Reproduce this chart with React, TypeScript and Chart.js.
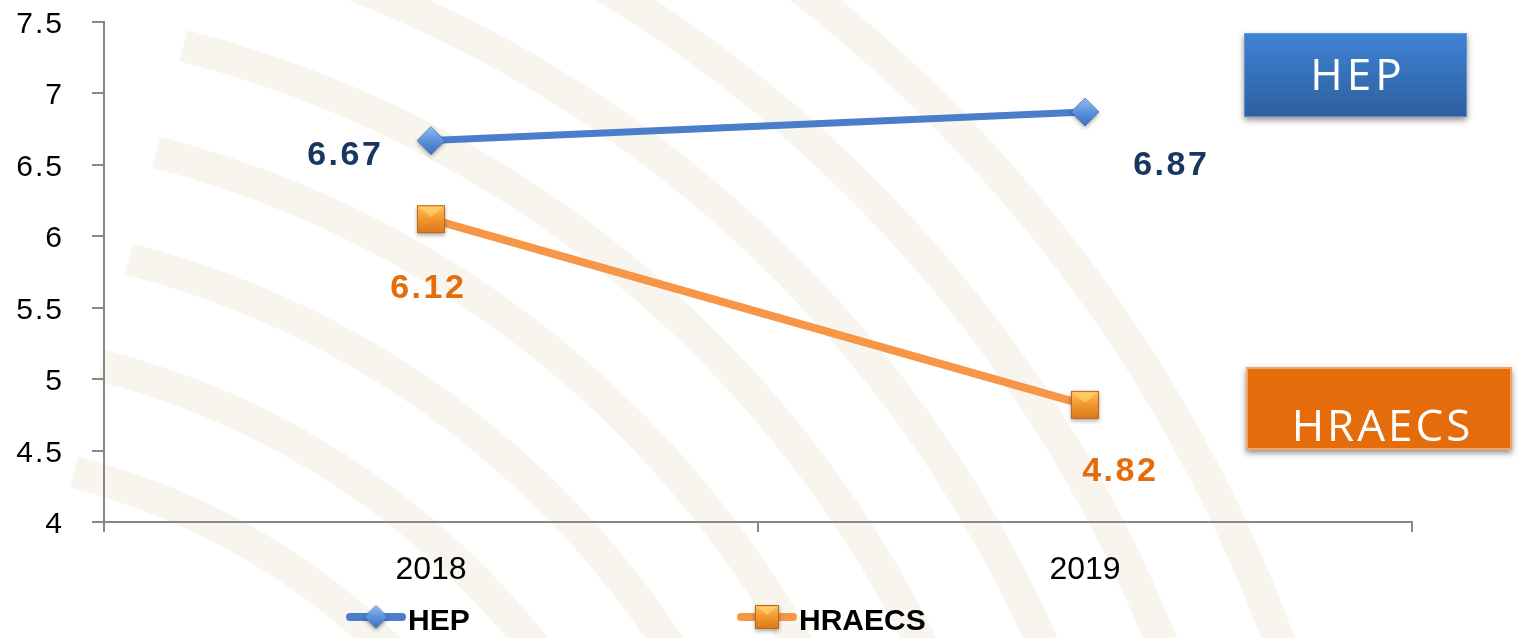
import React, { useEffect, useRef } from "react";
import { Chart, registerables } from "chart.js";

Chart.register(...registerables);

// ---- data ----
const categories = ["2018", "2019"];
const seriesNames = ["HEP", "HRAECS"];
const hepValues = [6.67, 6.87];
const hraecsValues = [6.12, 4.82];
const yMin = 4;
const yMax = 7.5;
const yStep = 0.5;

// ---- styles ----
const FONT = "'Liberation Sans', Arial, sans-serif";
const BOX_FONT = "'Open Sans', 'Noto Sans', sans-serif";
const BLUE_LINE = "#4A7ECB";
const ORANGE_LINE = "#F79646";
const HEP_LABEL = "#17375E";
const HRAECS_LABEL = "#E46C0A";

// label placement relative to each point: [dx, dy(baseline)]
const labelOffsets = [
  [
    [-87, 24],
    [85, 63],
  ],
  [
    [-4, 79],
    [34, 76],
  ],
];

function makeDiamond(r: number) {
  const pad = 6;
  const s = Math.ceil(r * 2 + pad * 2);
  const c = document.createElement("canvas");
  c.width = s;
  c.height = s;
  const g = c.getContext("2d")!;
  const cx = s / 2;
  const cy = s / 2;
  const path = () => {
    g.beginPath();
    g.moveTo(cx, cy - r);
    g.lineTo(cx + r, cy);
    g.lineTo(cx, cy + r);
    g.lineTo(cx - r, cy);
    g.closePath();
  };
  g.save();
  g.shadowColor = "rgba(0,0,0,0.35)";
  g.shadowBlur = 4;
  g.shadowOffsetY = 2;
  path();
  const gr = g.createLinearGradient(0, cy - r, 0, cy + r);
  gr.addColorStop(0, "#8FBDEE");
  gr.addColorStop(0.5, "#5B93DB");
  gr.addColorStop(1, "#3A6FBA");
  g.fillStyle = gr;
  g.fill();
  g.restore();
  path();
  g.strokeStyle = "rgba(60,100,170,0.6)";
  g.lineWidth = 1;
  g.stroke();
  return c;
}

function makeSquare(half: number) {
  const pad = 6;
  const s = Math.ceil(half * 2 + pad * 2);
  const c = document.createElement("canvas");
  c.width = s;
  c.height = s;
  const g = c.getContext("2d")!;
  const x0 = s / 2 - half;
  const y0 = s / 2 - half;
  const w = half * 2;
  g.save();
  g.shadowColor = "rgba(0,0,0,0.35)";
  g.shadowBlur = 4;
  g.shadowOffsetY = 2;
  const gr = g.createLinearGradient(0, y0, 0, y0 + w);
  gr.addColorStop(0, "#FFC65E");
  gr.addColorStop(0.45, "#F49A30");
  gr.addColorStop(1, "#DA761C");
  g.fillStyle = gr;
  g.fillRect(x0, y0, w, w);
  g.restore();
  g.beginPath();
  g.moveTo(x0 + 2, y0 + 2);
  g.lineTo(x0 + w - 2, y0 + 2);
  g.lineTo(x0 + w / 2, y0 + w / 2 - 2);
  g.closePath();
  g.fillStyle = "rgba(255,220,120,0.55)";
  g.fill();
  g.strokeStyle = "#C0661A";
  g.lineWidth = 1;
  g.strokeRect(x0 + 0.5, y0 + 0.5, w - 1, w - 1);
  return c;
}

function drawSpaced(
  g: CanvasRenderingContext2D,
  text: string,
  cx: number,
  baseline: number,
  ls: number,
  align: "center" | "right" | "left"
) {
  (g as any).letterSpacing = `${ls}px`;
  g.textAlign = "left";
  g.textBaseline = "alphabetic";
  const w = g.measureText(text).width - ls;
  let x = cx;
  if (align === "center") x = cx - w / 2;
  else if (align === "right") x = cx - w;
  g.fillText(text, x, baseline);
  (g as any).letterSpacing = "0px";
}

export default function App() {
  const ref = useRef<HTMLCanvasElement | null>(null);

  useEffect(() => {
    if (!ref.current) return;
    const diamond = makeDiamond(14);
    const square = makeSquare(14);
    const diamondSmall = makeDiamond(11.5);
    const squareSmall = makeSquare(12);

    const background = {
      id: "background",
      beforeDraw(chart: any) {
        const g = chart.ctx as CanvasRenderingContext2D;
        g.save();
        g.fillStyle = "#FFFFFF";
        g.fillRect(0, 0, chart.width, chart.height);
        g.strokeStyle = "#F8F5EF";
        g.lineWidth = 32;
        for (let r = 700; r <= 1500; r += 110) {
          g.beginPath();
          g.arc(-100, 1150, r, -Math.PI * 0.42, -Math.PI * 0.05);
          g.stroke();
        }
        g.restore();
      },
    };

    const overlay = {
      id: "overlay",
      afterDatasetsDraw(chart: any) {
        const g = chart.ctx as CanvasRenderingContext2D;
        g.save();
        const ys = chart.scales.y;
        g.fillStyle = "#000000";
        g.font = `30px ${FONT}`;
        ys.ticks.forEach((t: any) => {
          const py = ys.getPixelForValue(t.value);
          drawSpaced(g, String(t.value), 62, py + 11, 2, "right");
        });
        g.font = `bold 34px ${FONT}`;
        chart.data.datasets.forEach((ds: any, di: number) => {
          const meta = chart.getDatasetMeta(di);
          g.fillStyle = di === 0 ? HEP_LABEL : HRAECS_LABEL;
          meta.data.forEach((pt: any, i: number) => {
            const [dx, dy] = labelOffsets[di][i];
            drawSpaced(g, (ds.data[i] as number).toFixed(2), pt.x + dx, pt.y + dy, 2.5, "center");
          });
        });
        g.restore();
      },
      afterDraw(chart: any) {
        const g = chart.ctx as CanvasRenderingContext2D;
        g.save();
        const legendItems = [
          { x: 346, color: BLUE_LINE, marker: diamondSmall, text: chart.data.datasets[0].label },
          { x: 737, color: ORANGE_LINE, marker: squareSmall, text: chart.data.datasets[1].label },
        ];
        const ly = 617;
        legendItems.forEach((it) => {
          g.strokeStyle = it.color;
          g.lineWidth = 8;
          g.lineCap = "round";
          g.beginPath();
          g.moveTo(it.x + 4, ly);
          g.lineTo(it.x + 56, ly);
          g.stroke();
          const m = it.marker;
          g.drawImage(m, it.x + 30 - m.width / 2, ly - m.height / 2);
          g.fillStyle = "#000000";
          g.font = `bold 30px ${FONT}`;
          g.textAlign = "left";
          g.textBaseline = "alphabetic";
          g.fillText(it.text, it.x + 62, 630);
        });

        // HEP box
        g.save();
        g.shadowColor = "rgba(0,0,0,0.45)";
        g.shadowBlur = 6;
        g.shadowOffsetY = 3;
        const gb = g.createLinearGradient(0, 33, 0, 117);
        gb.addColorStop(0, "#3F83D6");
        gb.addColorStop(1, "#2D5E9E");
        g.fillStyle = gb;
        g.fillRect(1244, 33, 223, 84);
        g.restore();
        g.strokeStyle = "rgba(120,160,220,0.7)";
        g.lineWidth = 1;
        g.strokeRect(1244.5, 33.5, 222, 83);
        g.fillStyle = "#FFFFFF";
        g.font = `400 44px ${BOX_FONT}`;
        drawSpaced(g, chart.data.datasets[0].label, 1356, 90, 4, "center");

        // HRAECS box
        g.save();
        g.shadowColor = "rgba(0,0,0,0.45)";
        g.shadowBlur = 6;
        g.shadowOffsetY = 3;
        g.fillStyle = "#E46C0A";
        g.fillRect(1246, 367, 266, 83);
        g.restore();
        g.strokeStyle = "#F3A46A";
        g.lineWidth = 2;
        g.strokeRect(1247, 368, 264, 81);
        g.fillStyle = "#FFFFFF";
        g.font = `400 44px ${BOX_FONT}`;
        drawSpaced(g, chart.data.datasets[1].label, 1381, 441, 3, "center");
        g.restore();
      },
    };

    const chart = new Chart(ref.current, {
      type: "line",
      data: {
        labels: categories,
        datasets: [
          {
            label: seriesNames[0],
            data: hepValues,
            borderColor: BLUE_LINE,
            borderWidth: 7,
            pointStyle: diamond as any,
            pointRadius: 14,
            tension: 0,
          },
          {
            label: seriesNames[1],
            data: hraecsValues,
            borderColor: ORANGE_LINE,
            borderWidth: 8,
            pointStyle: square as any,
            pointRadius: 14,
            tension: 0,
          },
        ],
      },
      options: {
        animation: false,
        responsive: false,
        events: [],
        layout: { padding: { top: 20, right: 106, bottom: 46, left: 0 } },
        plugins: {
          legend: { display: false },
          tooltip: { enabled: false },
        },
        scales: {
          x: {
            offset: true,
            grid: {
              offset: true,
              drawOnChartArea: false,
              drawTicks: true,
              tickLength: 10,
              color: "#888888",
              lineWidth: 2,
            },
            border: { color: "#888888", width: 2 },
            ticks: {
              color: "#000000",
              font: { family: FONT, size: 32 },
              padding: 19,
            },
            afterFit(scale: any) {
              scale.height = 70;
            },
          },
          y: {
            min: yMin,
            max: yMax,
            grid: {
              drawOnChartArea: false,
              drawTicks: true,
              tickLength: 12,
              color: "#888888",
              lineWidth: 2,
            },
            border: { color: "#888888", width: 2 },
            ticks: { stepSize: yStep, display: false },
            afterFit(scale: any) {
              scale.width = 104;
            },
          },
        },
      },
      plugins: [background, overlay],
    });
    return () => chart.destroy();
  }, []);

  return (
    <div style={{ position: "fixed", left: 0, top: 0, width: 1518, height: 638 }}>
      <canvas ref={ref} width={1518} height={638} style={{ display: "block" }} />
    </div>
  );
}
